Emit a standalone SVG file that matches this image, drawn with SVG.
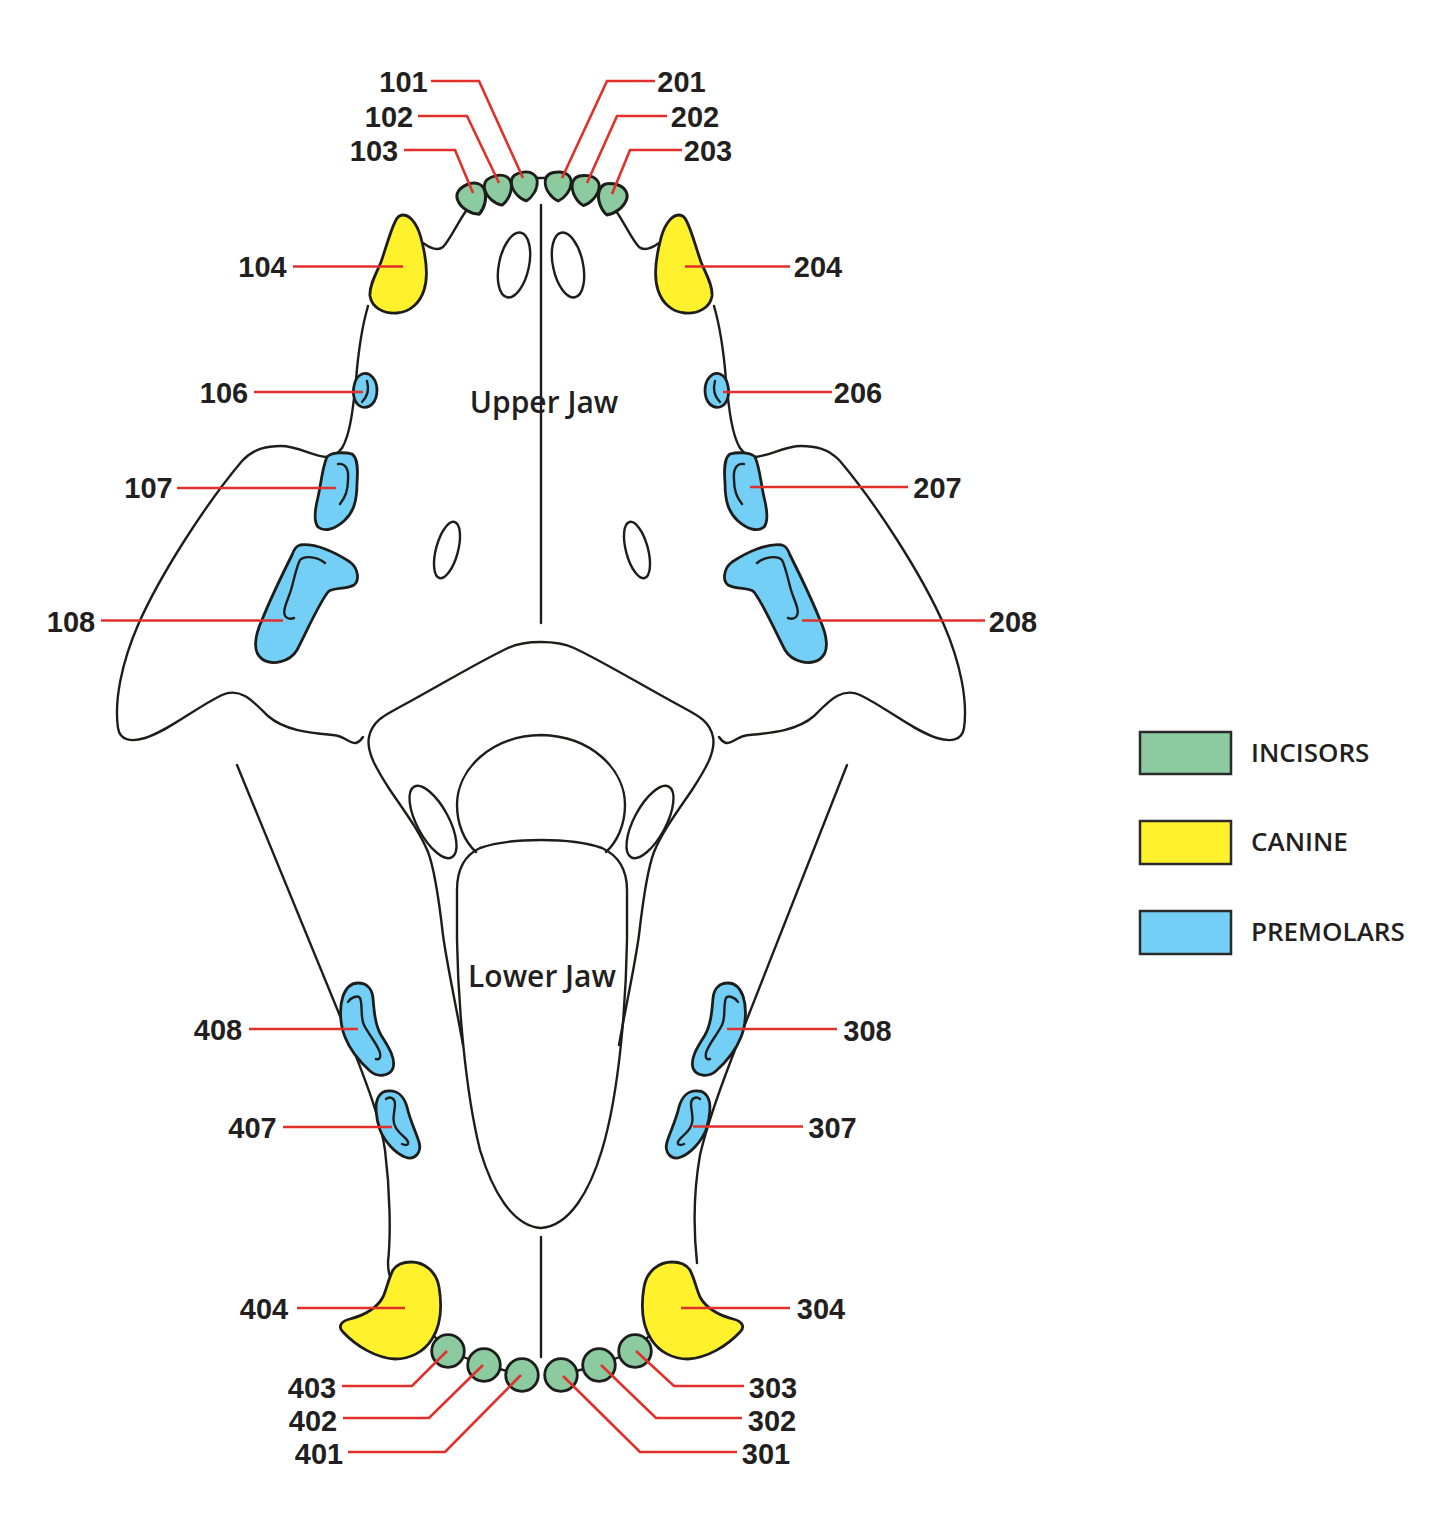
<svg xmlns="http://www.w3.org/2000/svg" width="1440" height="1521" viewBox="0 0 1440 1521">
<style>
.o{fill:none;stroke:#1d1d1b;stroke-width:2.4;stroke-linecap:round;stroke-linejoin:round}
.inc{fill:#8ccba0;stroke:#1d1d1b;stroke-width:2.8;stroke-linejoin:round}
.can{fill:#fff22d;stroke:#1d1d1b;stroke-width:2.8;stroke-linejoin:round}
.pm{fill:#73cff5;stroke:#1d1d1b;stroke-width:2.8;stroke-linejoin:round}
.cv{fill:none;stroke:#1d1d1b;stroke-width:2.4;stroke-linecap:round}
.lead{fill:none;stroke:#e1302b;stroke-width:2.6;stroke-linejoin:miter}
.lbl{font-family:"Liberation Sans",Arial,sans-serif;font-weight:700;font-size:29px;fill:#231f20;text-anchor:middle}
.jaw{font-family:"Open Sans","Liberation Sans",sans-serif;font-weight:600;font-size:30px;fill:#231f20;text-anchor:middle}
.leg{font-family:"Open Sans","Liberation Sans",sans-serif;font-weight:600;font-size:26px;fill:#231f20}
.box{stroke:#2b2b2b;stroke-width:2.5}
</style>
<defs>
<path id="incU" d="M0,-14 C8,-14.5 13,-10 13,-4 C13,4 7,12 1,15 C-5,13 -13,5 -13,-4 C-13,-10 -8,-13.5 0,-14 Z"/>
<path id="outL" d="M466,211 C458,222 450,240 443,247 C438,251 430,248 423,243 M368,306 C361,330 358,355 356,380 C353,410 350,435 342,448 C338,454 332,457 325,457 M327,457 C312,456 298,446 281,446 C268,446 254,448 242,461 C205,505 160,575 138,625 C122,662 114,700 118,728 C120,741 132,742 145,738 C170,730 195,708 222,695 C240,687 252,700 268,716 C285,731 312,733 333,735 C345,736 350,744 356,743 C359,742 361,740 363,737"/>
<path id="c104" d="M403,215 C412,215 419,228 422,242 C426,258 429,275 424,290 C420,303 410,312 397,313 C384,314 372,308 370,296 C369,285 377,272 381,262 C386,248 390,232 395,222 C397,217 400,215 403,215 Z"/>
<path id="c404" d="M411,1262 C423,1262 436,1270 439,1287 C442,1305 441,1325 432,1339 C424,1352 410,1359 395,1359 C376,1358 356,1346 343,1332 C337,1326 342,1321 350,1319 C365,1315 377,1308 383,1297 C387,1288 388,1280 393,1270 C397,1264 404,1262 411,1262 Z"/>
<g id="p106"><path class="pm" d="M362,374 C370,371 377,380 377,390 C377,402 370,409 362,407 C355,405 352,395 354,386 C355,380 357,376 362,374 Z"/><path class="cv" d="M367,381 C369,388 368,396 362,402"/></g>
<g id="p107"><path class="pm" d="M327,457 C331,452 345,452 352,454 C358,458 358,470 357,483 C357,500 354,512 344,521 C336,528 325,533 318,527 C313,521 316,505 318,497 C321,485 322,468 327,457 Z"/><path class="cv" d="M338,464 C346,463 349,470 348,480 C348,490 345,498 340,504"/></g>
<g id="p108"><path class="pm" d="M300,545 C315,543 335,552 350,562 C358,568 360,580 354,585 C345,590 333,587 328,592 C318,605 305,635 297,650 C290,662 272,666 262,659 C252,652 255,635 262,620 C270,600 283,573 292,555 C294,549 296,546 300,545 Z"/><path class="cv" d="M325,563 C318,557 305,555 300,560 C296,568 294,580 291,590 C288,600 281,612 286,617 C288,619 291,619 294,618"/></g>
<g id="p408"><path class="pm" d="M358,983 C366,983 372,988 373,998 C374,1010 375,1025 381,1035 C388,1046 396,1058 393,1068 C390,1076 378,1078 370,1071 C360,1062 350,1050 345,1037 C340,1025 339,1008 343,996 C346,988 351,983 358,983 Z"/><path class="cv" d="M348,1002 C351,997 358,995 360,998 C363,1005 360,1017 364,1025 C369,1035 378,1045 380,1053 C381,1058 379,1060 376,1059"/></g>
<g id="p407"><path class="pm" d="M388,1091 C397,1090 404,1096 407,1107 C410,1120 415,1130 419,1142 C422,1152 415,1161 405,1157 C395,1153 385,1142 380,1130 C376,1118 374,1103 379,1096 C381,1093 384,1091 388,1091 Z"/><path class="cv" d="M386,1099 C390,1096 395,1098 395,1104 C395,1112 391,1120 396,1128 C400,1135 410,1140 408,1144 C406,1146 404,1145 402,1144"/></g>
</defs>
<rect width="1440" height="1521" fill="#fff"/>

<g id="skull">
<use href="#outL" class="o"/>
<use href="#outL" class="o" transform="translate(1082,0) scale(-1,1)"/>
<path class="o" d="M537,178 L546,178"/>
<path class="o" d="M541,205 V623"/>
<ellipse class="o" cx="514" cy="265" rx="15" ry="33" transform="rotate(12 514 265)"/>
<ellipse class="o" cx="568" cy="265" rx="15" ry="33" transform="rotate(-12 568 265)"/>
<ellipse class="o" cx="447" cy="550" rx="11" ry="29" transform="rotate(15 447 550)"/>
<ellipse class="o" cx="637" cy="550" rx="11" ry="29" transform="rotate(-15 637 550)"/>
<path class="o" d="M463,1045 C455,1000 447,965 443,935 C439,900 435,870 428,852 C420,832 405,812 390,790 C377,770 366,752 369,737 C372,722 383,716 398,708 C432,690 478,662 508,648 C525,640 557,640 574,648 C604,662 650,690 684,708 C699,716 710,722 713,737 C716,752 705,770 692,790 C677,812 662,832 654,852 C647,870 643,900 639,935 C635,965 627,1000 619,1045"/>
<path class="o" d="M476,852 C465,842 457,825 457,805 C457,770 490,736 541,735 C592,736 625,770 625,805 C625,825 617,842 606,852"/>
<path class="o" d="M457,940 L457,890 C457,868 465,855 480,848 C500,841 520,840 541,840 C562,840 582,841 602,848 C617,855 627,868 627,890 L627,940 C626,1000 620,1090 602,1150 C590,1190 570,1226 541,1228 C512,1226 492,1190 480,1150 C465,1090 458,1000 457,940 Z"/>
<ellipse class="o" cx="433" cy="822" rx="16" ry="40" transform="rotate(-28 433 822)"/>
<ellipse class="o" cx="650" cy="822" rx="16" ry="40" transform="rotate(28 650 822)"/>
<path class="o" d="M237,765 L347,1033 C362,1072 380,1115 385,1150 C390,1190 391,1235 388,1262 C388,1270 389,1275 391,1279"/>
<path class="o" d="M847,765 L740,1037 C725,1075 708,1120 700,1155 C693,1195 694,1235 697,1263"/>
<path class="o" d="M541,1237 V1357"/>
<path class="o" d="M434,1336 L448,1351 L484,1365 L522,1375"/>
<path class="o" d="M561,1375 L599,1365 L635,1351 L649,1336"/>
<text class="jaw" x="544" y="413">Upper Jaw</text>
<text class="jaw" x="542" y="987">Lower Jaw</text>
</g>

<g id="t101"><use href="#incU" class="inc" transform="translate(524.5,186) rotate(-3)"/><text class="lbl" x="403.5" y="91.5">101</text></g>
<g id="t102"><use href="#incU" class="inc" transform="translate(498.5,190) rotate(-10) scale(1.04)"/><text class="lbl" x="389" y="126.5">102</text></g>
<g id="t103"><use href="#incU" class="inc" transform="translate(472.5,199) rotate(-20) scale(1.1)"/><text class="lbl" x="374" y="161">103</text></g>
<g id="t201"><use href="#incU" class="inc" transform="translate(558,186) rotate(3)"/><text class="lbl" x="681.5" y="91.5">201</text></g>
<g id="t202"><use href="#incU" class="inc" transform="translate(585,190) rotate(10) scale(1.04)"/><text class="lbl" x="695" y="126.5">202</text></g>
<g id="t203"><use href="#incU" class="inc" transform="translate(611.5,199) rotate(20) scale(1.1)"/><text class="lbl" x="708" y="161">203</text></g>

<g id="t104"><use href="#c104" class="can"/><text class="lbl" x="262.5" y="276.5">104</text></g>
<g id="t204"><use href="#c104" class="can" transform="translate(1082,0) scale(-1,1)"/><text class="lbl" x="818" y="276.5">204</text></g>

<g id="t106"><use href="#p106"/><text class="lbl" x="224" y="402.5">106</text></g>
<g id="t206"><use href="#p106" transform="translate(1082,0) scale(-1,1)"/><text class="lbl" x="858" y="402.5">206</text></g>
<g id="t107"><use href="#p107"/><text class="lbl" x="148.5" y="497.5">107</text></g>
<g id="t207"><use href="#p107" transform="translate(1082,0) scale(-1,1)"/><text class="lbl" x="937.5" y="497.5">207</text></g>
<g id="t108"><use href="#p108"/><text class="lbl" x="71" y="631.5">108</text></g>
<g id="t208"><use href="#p108" transform="translate(1082,0) scale(-1,1)"/><text class="lbl" x="1013" y="631.5">208</text></g>

<g id="t408"><use href="#p408"/><text class="lbl" x="218" y="1039.5">408</text></g>
<g id="t407"><use href="#p407"/><text class="lbl" x="252.5" y="1137.5">407</text></g>
<g id="t308"><use href="#p408" transform="translate(1086,0) scale(-1,1)"/><text class="lbl" x="867.5" y="1040.5">308</text></g>
<g id="t307"><use href="#p407" transform="translate(1086,0) scale(-1,1)"/><text class="lbl" x="832.5" y="1137.5">307</text></g>

<g id="t404"><use href="#c404" class="can"/><text class="lbl" x="264" y="1318.5">404</text></g>
<g id="t304"><use href="#c404" class="can" transform="translate(1083,0) scale(-1,1)"/><text class="lbl" x="821" y="1318.5">304</text></g>

<g id="t403"><circle class="inc" cx="448" cy="1351" r="16.3"/><text class="lbl" x="312" y="1397.5">403</text></g>
<g id="t402"><circle class="inc" cx="484" cy="1365" r="16.3"/><text class="lbl" x="313" y="1430.5">402</text></g>
<g id="t401"><circle class="inc" cx="522" cy="1375" r="16.3"/><text class="lbl" x="319" y="1463.5">401</text></g>
<g id="t301"><circle class="inc" cx="561" cy="1375" r="16.3"/><text class="lbl" x="766" y="1463.5">301</text></g>
<g id="t302"><circle class="inc" cx="599" cy="1365" r="16.3"/><text class="lbl" x="772" y="1430.5">302</text></g>
<g id="t303"><circle class="inc" cx="635" cy="1351" r="16.3"/><text class="lbl" x="773" y="1397.5">303</text></g>

<g id="connectors">
<path class="lead" d="M431,81 H479 L523,178"/>
<path class="lead" d="M418,116 H467 L499,183"/>
<path class="lead" d="M404,150 H455 L473,193"/>
<path class="lead" d="M655,81 H607 L562,178"/>
<path class="lead" d="M667,116 H617 L587,183"/>
<path class="lead" d="M682,150 H630 L612,194"/>
<path class="lead" d="M293,266.5 H403"/>
<path class="lead" d="M685,266.5 H790"/>
<path class="lead" d="M254,392 H363"/>
<path class="lead" d="M723,392 H832"/>
<path class="lead" d="M177,488 H336"/>
<path class="lead" d="M750,487 H908"/>
<path class="lead" d="M101,620.5 H283"/>
<path class="lead" d="M802,620.5 H985"/>
<path class="lead" d="M249,1029 H358"/>
<path class="lead" d="M283,1127 H392"/>
<path class="lead" d="M727,1029 H837"/>
<path class="lead" d="M693,1126.5 H803"/>
<path class="lead" d="M297,1308 H405"/>
<path class="lead" d="M681,1308 H790"/>
<path class="lead" d="M342,1386 H412 L447,1351"/>
<path class="lead" d="M343,1418 H429 L483,1365"/>
<path class="lead" d="M348,1452 H445 L521,1375"/>
<path class="lead" d="M744,1386 H674 L636,1351"/>
<path class="lead" d="M742,1418 H656 L601,1365"/>
<path class="lead" d="M737,1452 H640 L563,1376"/>
</g>

<g id="legend">
<g id="leg-incisors"><rect class="box" x="1140" y="732" width="91" height="42" fill="#8ccba0"/><text class="leg" x="1251" y="762">INCISORS</text></g>
<g id="leg-canine"><rect class="box" x="1140" y="821" width="91" height="43" fill="#fff22d"/><text class="leg" x="1251" y="851">CANINE</text></g>
<g id="leg-premolars"><rect class="box" x="1140" y="911" width="91" height="43" fill="#73cff5"/><text class="leg" x="1251" y="941">PREMOLARS</text></g>
</g>
</svg>
